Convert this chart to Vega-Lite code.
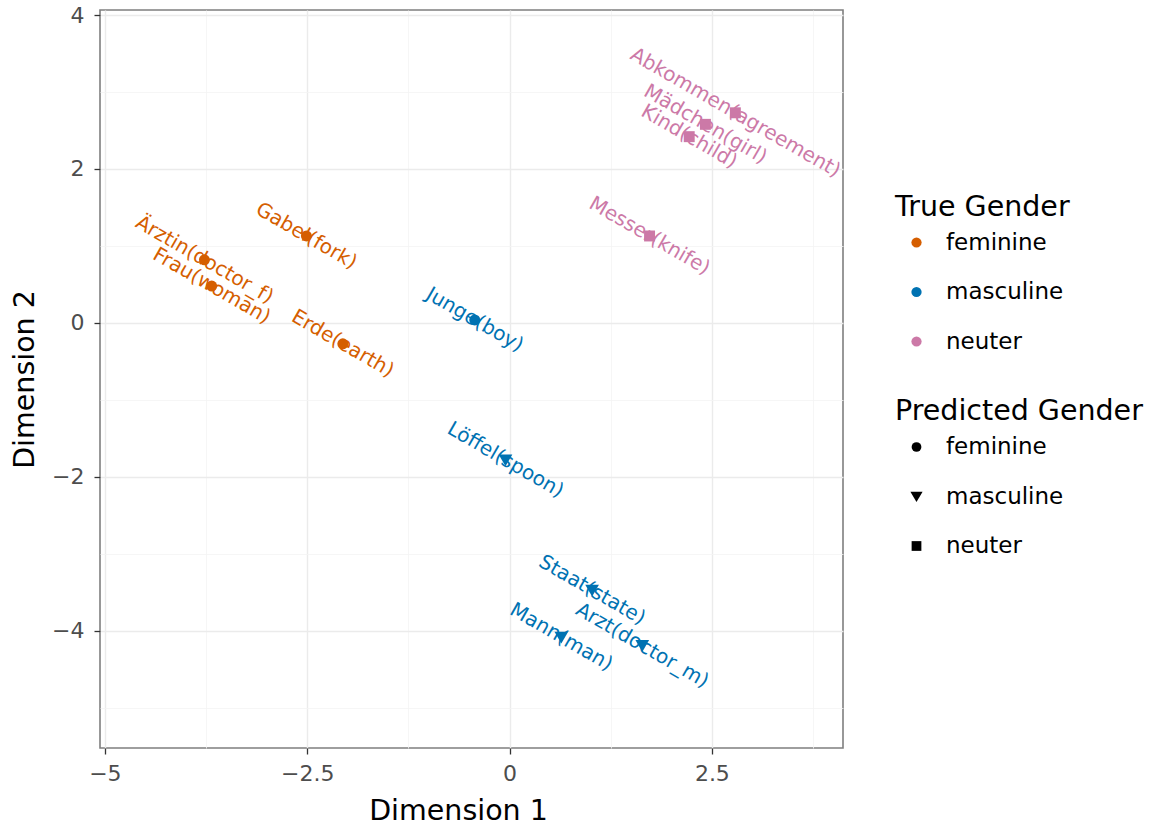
{
  "$schema": "https://vega.github.io/schema/vega-lite/v6.json",
  "width": 743,
  "height": 738,
  "autosize": {"type": "none"},
  "padding": {"left": 100, "top": 10, "right": 316, "bottom": 77},
  "background": "white",
  "config": {
    "font": "DejaVu Sans",
    "view": {"stroke": "#7F7F7F", "strokeWidth": 1.6}
  },
  "data": {
    "values": [
      {"word": "Ärztin(doctor_f)", "d1": -3.77, "d2": 0.82, "true_gender": "feminine", "pred_gender": "feminine"},
      {"word": "Frau(woman)", "d1": -3.68, "d2": 0.48, "true_gender": "feminine", "pred_gender": "feminine"},
      {"word": "Gabel(fork)", "d1": -2.51, "d2": 1.13, "true_gender": "feminine", "pred_gender": "feminine"},
      {"word": "Erde(earth)", "d1": -2.06, "d2": -0.27, "true_gender": "feminine", "pred_gender": "feminine"},
      {"word": "Junge(boy)", "d1": -0.43, "d2": 0.04, "true_gender": "masculine", "pred_gender": "feminine"},
      {"word": "Löffel(spoon)", "d1": -0.05, "d2": -1.78, "true_gender": "masculine", "pred_gender": "masculine"},
      {"word": "Staat(state)", "d1": 1.02, "d2": -3.47, "true_gender": "masculine", "pred_gender": "masculine"},
      {"word": "Mann(man)", "d1": 0.64, "d2": -4.08, "true_gender": "masculine", "pred_gender": "masculine"},
      {"word": "Arzt(doctor_m)", "d1": 1.64, "d2": -4.19, "true_gender": "masculine", "pred_gender": "masculine"},
      {"word": "Messer(knife)", "d1": 1.73, "d2": 1.13, "true_gender": "neuter", "pred_gender": "neuter"},
      {"word": "Kind(child)", "d1": 2.22, "d2": 2.42, "true_gender": "neuter", "pred_gender": "neuter"},
      {"word": "Mädchen(girl)", "d1": 2.42, "d2": 2.58, "true_gender": "neuter", "pred_gender": "neuter"},
      {"word": "Abkommen(agreement)", "d1": 2.79, "d2": 2.73, "true_gender": "neuter", "pred_gender": "neuter"}
    ]
  },
  "encoding": {
    "x": {
      "field": "d1", "type": "quantitative", "title": "Dimension 1",
      "scale": {"domain": [-5.06, 4.12], "nice": false, "zero": false},
      "axis": {
        "domain": false,
        "values": [-5, -3.75, -2.5, -1.25, 0, 1.25, 2.5, 3.75],
        "labelExpr": "abs(datum.value % 2.5) < 0.001 ? format(datum.value, '.2~f') : ''",
        "labelFont": "DejaVu Sans", "labelFontSize": 22, "labelColor": "#4D4D4D",
        "tickColor": "#333333", "tickSize": 6, "tickWidth": 1.3,
        "tickOpacity": {"condition": {"test": "abs(datum.value % 2.5) < 0.001", "value": 1}, "value": 0},
        "gridColor": {"condition": {"test": "abs(datum.value % 2.5) < 0.001", "value": "#EBEBEB"}, "value": "#F4F4F4"},
        "gridWidth": {"condition": {"test": "abs(datum.value % 2.5) < 0.001", "value": 1.4}, "value": 0.8},
        "labelPadding": 9,
        "titleFont": "DejaVu Sans", "titleFontSize": 28.5, "titleFontWeight": "normal", "titleColor": "black",
        "titlePadding": 12,
        "titleX": 358
      }
    },
    "y": {
      "field": "d2", "type": "quantitative", "title": "Dimension 2",
      "scale": {"domain": [-5.52, 4.065], "nice": false, "zero": false},
      "axis": {
        "domain": false,
        "values": [-5, -4, -3, -2, -1, 0, 1, 2, 3, 4],
        "labelExpr": "abs(datum.value % 2) < 0.001 ? format(datum.value, 'd') : ''",
        "labelFont": "DejaVu Sans", "labelFontSize": 22, "labelColor": "#4D4D4D",
        "tickColor": "#333333", "tickSize": 6, "tickWidth": 1.3,
        "tickOpacity": {"condition": {"test": "abs(datum.value % 2) < 0.001", "value": 1}, "value": 0},
        "gridColor": {"condition": {"test": "abs(datum.value % 2) < 0.001", "value": "#EBEBEB"}, "value": "#F4F4F4"},
        "gridWidth": {"condition": {"test": "abs(datum.value % 2) < 0.001", "value": 1.4}, "value": 0.8},
        "labelPadding": 10,
        "titleFont": "DejaVu Sans", "titleFontSize": 28.5, "titleFontWeight": "normal", "titleColor": "black",
        "titlePadding": 12
      }
    },
    "color": {
      "field": "true_gender", "type": "nominal", "title": "True Gender",
      "scale": {"domain": ["feminine", "masculine", "neuter"], "range": ["#D55E00", "#0072B2", "#CC79A7"]},
      "legend": {
        "orient": "none", "legendX": 795, "legendY": 182.5,
        "titleFont": "DejaVu Sans", "titleFontSize": 28.5, "titleFontWeight": "normal", "titleColor": "black", "titleLimit": 400,
        "labelFont": "DejaVu Sans", "labelFontSize": 23, "labelColor": "black", "labelLimit": 400,
        "symbolType": "circle", "symbolSize": 105, "symbolStrokeWidth": 0,
        "titlePadding": 10, "rowPadding": 25.5, "symbolOffset": 10, "labelOffset": 18, "padding": 0
      }
    },
    "shape": {
      "field": "pred_gender", "type": "nominal", "title": "Predicted Gender",
      "scale": {"range": ["circle", "M-1.25,-1L1.25,-1L0,1.15Z", "square"]},
      "legend": {
        "orient": "none", "legendX": 795, "legendY": 387,
        "titleFont": "DejaVu Sans", "titleFontSize": 28.5, "titleFontWeight": "normal", "titleColor": "black", "titleLimit": 400,
        "labelFont": "DejaVu Sans", "labelFontSize": 23, "labelColor": "black", "labelLimit": 400,
        "symbolSize": 95, "symbolFillColor": "black", "symbolStrokeColor": "black", "symbolStrokeWidth": 0,
        "titlePadding": 10, "rowPadding": 25.5, "symbolOffset": 10, "labelOffset": 18, "padding": 0
      }
    }
  },
  "layer": [
    {"mark": {"type": "point", "filled": true, "opacity": 1, "size": 120}},
    {
      "mark": {"type": "text", "angle": 30, "fontSize": 20, "align": "center", "baseline": "middle", "font": "DejaVu Sans"},
      "encoding": {"text": {"field": "word"}, "shape": {"value": null}}
    }
  ]
}
